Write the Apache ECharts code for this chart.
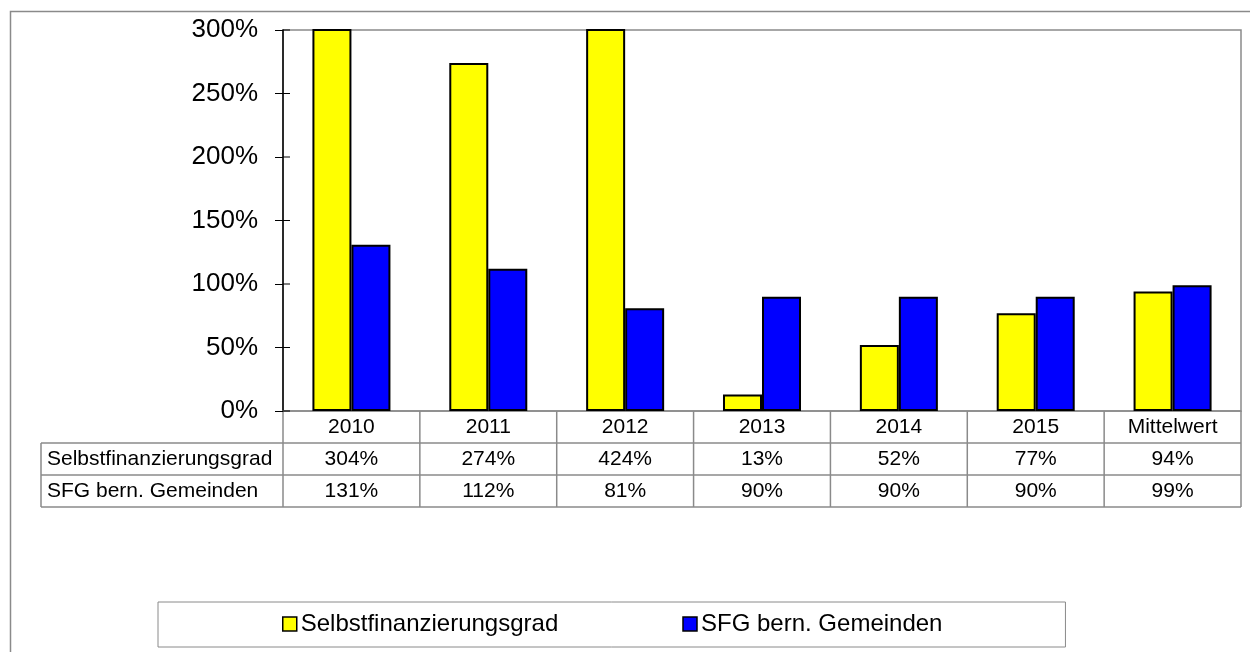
<!DOCTYPE html>
<html>
<head>
<meta charset="utf-8">
<script src="https://cdn.jsdelivr.net/npm/echarts@6/dist/echarts.min.js"></script>
<style>
    html, body { margin: 0; padding: 0; background: #fff; }
    #chartView { width: 1250px; height: 652px; }
</style>
</head>
<body>
<div id="chartView"></div>
<script>
//数据
var categories = ["2010", "2011", "2012", "2013", "2014", "2015", "Mittelwert"];
var seriesNames = ["Selbstfinanzierungsgrad", "SFG bern. Gemeinden"];
var arrSelbst = [304, 274, 424, 13, 52, 77, 94];   //Selbstfinanzierungsgrad in %
var arrSFG = [131, 112, 81, 90, 90, 90, 99];       //SFG bern. Gemeinden in %
var yTicks = [0, 50, 100, 150, 200, 250, 300];

//布局
var GRID_L = 283, GRID_R = 1241, GRID_T = 30, GRID_B = 411;
var TABLE_L = 41, ROW_H = 32;
var LINE_COLOR = "#8a8a8a";
var FONT = "'Liberation Sans', Arial, sans-serif";

function getTableGraphic() {
    var list = [];
    var cw = (GRID_R - GRID_L) / categories.length;
    var lineStyle = { stroke: LINE_COLOR, lineWidth: 1.5 };

    //外框
    list.push({
        type: "rect", silent: true, z: -1,
        shape: { x: 10.5, y: 11.5, width: 1400, height: 800 },
        style: { fill: null, stroke: LINE_COLOR, lineWidth: 1.5 }
    });

    //横线
    for (var r = 1; r <= 3; r++) {
        var y = GRID_B + r * ROW_H;
        list.push({ type: "line", silent: true, shape: { x1: TABLE_L, y1: y, x2: GRID_R, y2: y }, style: lineStyle });
    }
    list.push({ type: "line", silent: true, shape: { x1: TABLE_L, y1: GRID_B + ROW_H, x2: TABLE_L, y2: GRID_B + 3 * ROW_H }, style: lineStyle });

    //竖线
    for (var i = 0; i <= categories.length; i++) {
        var x = GRID_L + i * cw;
        list.push({ type: "line", silent: true, shape: { x1: x, y1: GRID_B, x2: x, y2: GRID_B + 3 * ROW_H }, style: lineStyle });
    }

    //y轴刻度穿过轴线（右半部分）
    for (var t = 0; t < yTicks.length; t++) {
        var ty = GRID_B - (GRID_B - GRID_T) * (yTicks[t] - yTicks[0]) / (yTicks[yTicks.length - 1] - yTicks[0]);
        list.push({ type: "line", silent: true, z: 10, shape: { x1: GRID_L, y1: ty, x2: GRID_L + 7, y2: ty }, style: { stroke: "#000", lineWidth: 1 } });
    }

    //行名和数值
    var rows = [arrSelbst, arrSFG];
    for (var r = 0; r < rows.length; r++) {
        var cy = GRID_B + (r + 1.5) * ROW_H;
        list.push({
            type: "text", silent: true,
            style: { x: TABLE_L + 6, y: cy, text: seriesNames[r], fill: "#000", font: "21px " + FONT, textAlign: "left", textVerticalAlign: "middle" }
        });
        for (var i = 0; i < rows[r].length; i++) {
            list.push({
                type: "text", silent: true,
                style: { x: GRID_L + (i + 0.5) * cw, y: cy, text: rows[r][i] + "%", fill: "#000", font: "21px " + FONT, textAlign: "center", textVerticalAlign: "middle" }
            });
        }
    }
    return list;
}

var myChart = echarts.init(document.getElementById("chartView"), null, { renderer: "canvas" });

var option = {
    animation: false,
    textStyle: { fontFamily: FONT },
    grid: {
        left: GRID_L, right: 1250 - GRID_R, top: GRID_T, bottom: 652 - GRID_B,
        show: true, borderColor: LINE_COLOR, borderWidth: 1.5
    },
    legend: {
        left: 158, top: 602,
        padding: [10, 123, 11, 124],
        borderColor: LINE_COLOR, borderWidth: 1, borderRadius: 0,
        icon: "rect",
        itemWidth: 14, itemHeight: 14, itemGap: 124,
        itemStyle: { borderColor: "#000", borderWidth: 1.5 },
        textStyle: { fontSize: 24, color: "#000", fontFamily: FONT, padding: [0, 0, 0, -1] },
        data: seriesNames
    },
    xAxis: {
        type: "category",
        data: categories,
        axisLine: { show: true, lineStyle: { color: LINE_COLOR, width: 1.5 } },
        axisTick: { show: false },
        axisLabel: { margin: 6, fontSize: 21, color: "#000", fontFamily: FONT }
    },
    yAxis: {
        type: "value",
        min: yTicks[0], max: yTicks[yTicks.length - 1], interval: 50,
        axisLine: { show: true, lineStyle: { color: "#000", width: 1.5 } },
        axisTick: { show: true, inside: false, length: 8, lineStyle: { color: "#000" } },
        splitLine: { show: false },
        axisLabel: { margin: 25, fontSize: 26, color: "#000", fontFamily: FONT, formatter: "{value}%" }
    },
    series: [
        {
            name: seriesNames[0], type: "bar", data: arrSelbst,
            barGap: "0%", barCategoryGap: "43%", clip: true,
            itemStyle: { color: "#ffff00", borderColor: "#000", borderWidth: 2 }
        },
        {
            name: seriesNames[1], type: "bar", data: arrSFG,
            barGap: "0%", barCategoryGap: "43%", clip: true,
            itemStyle: { color: "#0000ff", borderColor: "#000", borderWidth: 2 }
        }
    ],
    graphic: getTableGraphic()
};

myChart.setOption(option);
</script>
</body>
</html>
